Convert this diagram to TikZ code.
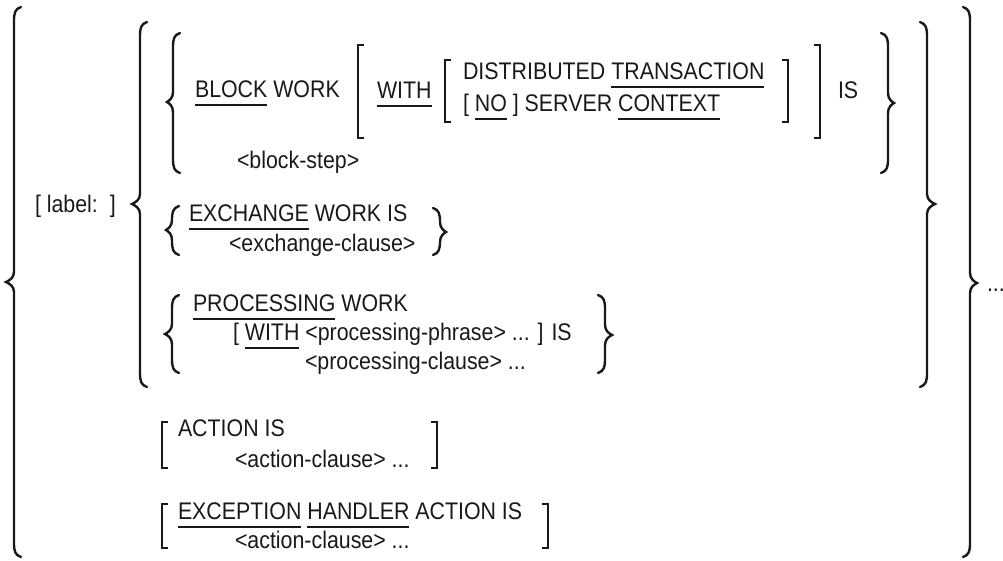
\documentclass[tikz,border=0pt]{standalone}
\usepackage{fontspec}
\setmainfont[FakeStretch=0.89]{Liberation Sans}
\newcommand\myul[1]{\setbox0\hbox{#1}\rlap{\rule[-8.9pt]{\wd0}{1.8pt}}\box0\relax}
\newcommand\drawLbrace[5]{%
 \draw[bracestyle] ({#1+7},#2) .. controls ({#1+1},{#2+2}) and (#1,{#2+6}) .. (#1,{#2+14}) -- (#1,{#3-10}) .. controls (#1,{#3-4}) and ({#1-0.6*#5},{#3-1.5}) .. ({#1-#5},#3) .. controls ({#1-0.6*#5},{#3+1.5}) and (#1,{#3+4}) .. (#1,{#3+10}) -- (#1,{#4-14}) .. controls (#1,{#4-6}) and ({#1+1},{#4-2}) .. ({#1+7},#4);}
\newcommand\drawRbrace[5]{%
 \draw[bracestyle] ({#1-7},#2) .. controls ({#1-1},{#2+2}) and (#1,{#2+6}) .. (#1,{#2+14}) -- (#1,{#3-10}) .. controls (#1,{#3-4}) and ({#1+0.6*#5},{#3-1.5}) .. ({#1+#5},#3) .. controls ({#1+0.6*#5},{#3+1.5}) and (#1,{#3+4}) .. (#1,{#3+10}) -- (#1,{#4-14}) .. controls (#1,{#4-6}) and ({#1-1},{#4-2}) .. ({#1-7},#4);}
\newcommand\drawLbrack[3]{\draw[brackstyle] ({#1+6},#2) -- (#1,#2) -- (#1,#3) -- ({#1+6},#3);}
\newcommand\drawRbrack[3]{\draw[brackstyle] ({#1-6},#2) -- (#1,#2) -- (#1,#3) -- ({#1-6},#3);}
\tikzset{
  txt/.style={anchor=base west, inner sep=0pt, outer sep=0pt, font=\fontsize{24}{28}\selectfont, text=black!90},
  bracestyle/.style={line width=2.4pt, black!90, line cap=round},
  brackstyle/.style={line width=2pt, black!90}
}
\begin{document}
\begin{tikzpicture}[x=1pt,y=-1pt]
\useasboundingbox (0,0) rectangle (1003,560);
% outer braces
\drawLbrace{14}{7}{282}{557}{8}
\drawRbrace{970}{7}{283}{557}{7}
\node[txt] (dots) at (987,291) {...};
% second level braces
\drawLbrace{140}{22}{204}{387}{8}
\drawRbrace{927}{22}{204}{387}{8}
\node[txt] (label) at (35,212) {[ label:\ \ ]};
% block work
\drawLbrace{173}{33}{102}{173}{6}
\drawRbrace{888}{33}{103}{173}{6}
\node[txt] (block) at (195,97) {\myul{BLOCK} WORK};
\drawLbrack{358}{45}{138}
\drawRbrack{820}{45}{138}
\node[txt] (with) at (377,98) {\myul{WITH}};
\drawLbrack{445}{60}{122}
\drawRbrack{788}{60}{122}
\node[txt] (dist) at (463,79) {DISTRIBUTED \myul{TRANSACTION}};
\node[txt] (server) at (463,111) {[ \myul{NO} ] SERVER \myul{CONTEXT}};
\node[txt] (is1) at (838,98) {IS};
\node[txt] (bstep) at (237,168) {<block-step>};
% exchange
\drawLbrace{172}{206}{230}{255}{6}
\drawRbrace{440}{208}{232}{255}{6}
\node[txt] (exch) at (189,221) {\myul{EXCHANGE} WORK IS};
\node[txt] (exclause) at (229,251) {<exchange-clause>};
% processing
\drawLbrace{172}{295}{334}{373}{7}
\drawRbrace{605}{295}{335}{373}{7}
\node[txt] (proc) at (193,311) {\myul{PROCESSING} WORK};
\node[txt] (pwith) at (233,340) {[ \myul{WITH} <processing-phrase> ... ] IS};
\node[txt] (pclause) at (305,369) {<processing-clause> ...};
% action
\drawLbrack{162}{422}{468}
\drawRbrack{437}{422}{468}
\node[txt] (action) at (178,436) {ACTION IS};
\node[txt] (aclause) at (235,467) {<action-clause> ...};
% exception
\drawLbrack{162}{504}{548}
\drawRbrack{548}{504}{548}
\node[txt] (exc) at (178,519) {\myul{EXCEPTION} \myul{HANDLER} ACTION IS};
\node[txt] (eclause) at (235,548) {<action-clause> ...};
\end{tikzpicture}
\end{document}
